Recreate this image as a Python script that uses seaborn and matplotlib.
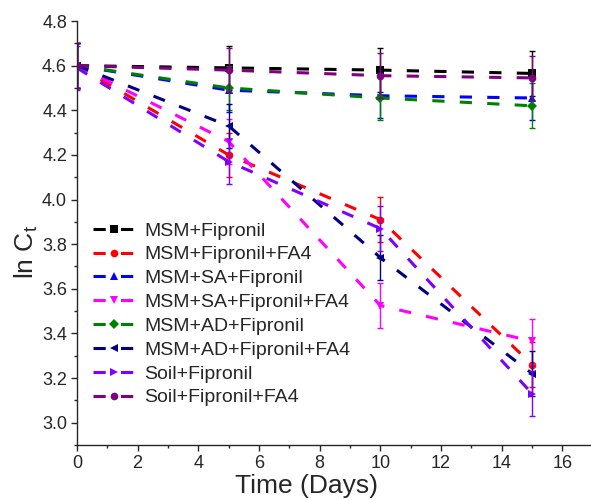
import matplotlib
matplotlib.use("Agg")
import matplotlib.pyplot as plt
from matplotlib.ticker import MultipleLocator
import seaborn as sns
import pandas as pd

days = [0, 5, 10, 15]

labels = ["MSM+Fipronil", "MSM+Fipronil+FA4", "MSM+SA+Fipronil", "MSM+SA+Fipronil+FA4",
          "MSM+AD+Fipronil", "MSM+AD+Fipronil+FA4", "Soil+Fipronil", "Soil+Fipronil+FA4"]

msm_fip = [4.60, 4.59, 4.58, 4.565]
msm_fip_fa4 = [4.60, 4.20, 3.91, 3.26]
msm_sa_fip = [4.60, 4.49, 4.465, 4.455]
msm_sa_fip_fa4 = [4.60, 4.26, 3.525, 3.365]
msm_ad_fip = [4.60, 4.50, 4.455, 4.42]
msm_ad_fip_fa4 = [4.60, 4.33, 3.74, 3.22]
soil_fip = [4.59, 4.17, 3.87, 3.13]
soil_fip_fa4 = [4.60, 4.58, 4.555, 4.545]

err = [0.1, 0.1, 0.1, 0.1]

series = [msm_fip, msm_fip_fa4, msm_sa_fip, msm_sa_fip_fa4,
          msm_ad_fip, msm_ad_fip_fa4, soil_fip, soil_fip_fa4]
colors = ["#000000", "#FF0000", "#0000FF", "#FF00FF",
          "#008000", "#000080", "#8000FF", "#800080"]
markers = ["s", "o", "^", "v", "D", "<", ">", "o"]

sns.set_style("ticks")
plt.rcParams["font.family"] = ["Liberation Sans", "DejaVu Sans"]
plt.rcParams["mathtext.fontset"] = "custom"
plt.rcParams["mathtext.rm"] = "Liberation Sans"

fig = plt.figure(figsize=(5.91, 5.0), dpi=100)
ax = fig.add_axes([0.130, 0.11, 0.868, 0.848])

for name, vals, c, m in zip(labels, series, colors, markers):
    df = pd.DataFrame({"Day": days, "lnC": vals})
    ms = 5 if m == "D" else 5.5
    sns.lineplot(data=df, x="Day", y="lnC", ax=ax, color=c, marker=m,
                 markersize=ms, markeredgewidth=0, linewidth=2.2,
                 dashes=False, linestyle=(0, (4, 5)), label=name)
    ax.errorbar(days, vals, yerr=err, fmt="none", ecolor=c, elinewidth=1,
                capsize=2.5, capthick=1)

ax.set_xlim(0, 16.9)
ax.set_ylim(2.9, 4.8)
ax.xaxis.set_major_locator(MultipleLocator(2))
ax.xaxis.set_minor_locator(MultipleLocator(1))
ax.yaxis.set_major_locator(MultipleLocator(0.2))
ax.yaxis.set_minor_locator(MultipleLocator(0.1))
ax.tick_params(which="major", direction="out", length=4, width=1, labelsize=13, pad=3)
ax.tick_params(which="minor", direction="out", length=2.5, width=1)
sns.despine(ax=ax)
ax.spines["left"].set_linewidth(1)
ax.spines["bottom"].set_linewidth(1)

ax.set_xlabel("Time (Days)", fontsize=19)
ax.set_ylabel(r"ln C$_\mathregular{t}$", fontsize=19)
ax.xaxis.set_label_coords(0.447, -0.069)
ax.yaxis.set_label_coords(-0.072, 0.455)

ax.legend(loc="upper left", bbox_to_anchor=(0.031, 0.526), frameon=False, fontsize=14,
          handlelength=2.15, handletextpad=0.5, labelspacing=0.32, numpoints=1,
          borderaxespad=0, borderpad=0)

fig.savefig("out.png", dpi=100)
